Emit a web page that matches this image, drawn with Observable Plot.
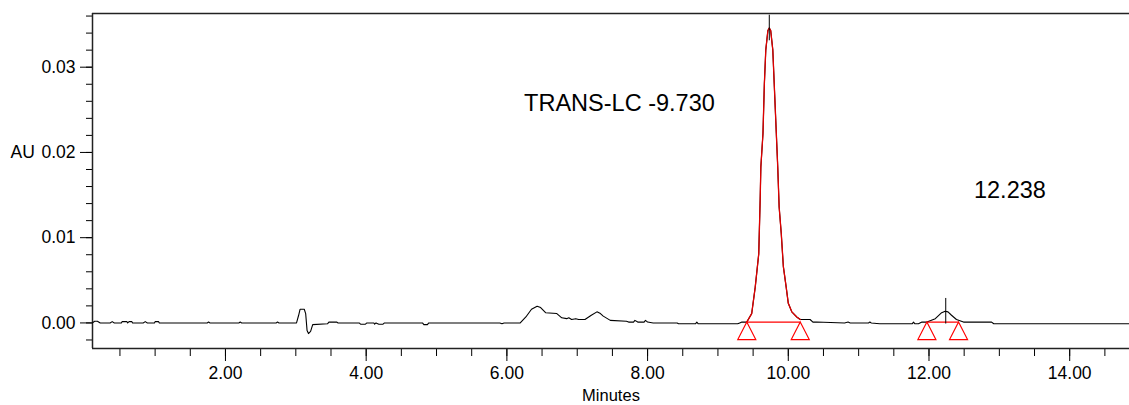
<!DOCTYPE html>
<html>
<head>
<meta charset="utf-8">
<script src="https://cdn.jsdelivr.net/npm/d3@7"></script>
<script src="https://cdn.jsdelivr.net/npm/@observablehq/plot@0.6"></script>
<style>
  html, body { margin: 0; padding: 0; background: #fff; }
  #chart svg { display: block; }
</style>
</head>
<body>
<div id="chart"></div>
<script>
// ---- data ----
const times = [
  0.11, 0.14, 0.18, 0.22, 0.36, 0.39, 0.42, 0.52, 0.53, 0.60, 0.61, 0.63, 0.67, 0.68,
  0.83, 0.86, 0.89, 0.99, 1.00, 1.05, 1.06, 1.74, 1.76, 1.78, 2.19, 2.21, 2.23,
  2.72, 2.74, 2.76, 3.01, 3.04, 3.06, 3.12, 3.14, 3.16, 3.18, 3.21, 3.24, 3.45,
  3.47, 3.58, 3.60, 3.90, 3.92, 3.99, 4.01, 4.11, 4.12, 4.14, 4.18, 4.24, 4.26,
  4.80, 4.82, 4.87, 4.89, 5.90, 5.93, 5.96, 6.19, 6.27, 6.35, 6.43, 6.48, 6.55,
  6.71, 6.78, 6.85, 6.88, 6.92, 6.98, 7.02, 7.11, 7.20, 7.28, 7.33, 7.37, 7.47,
  7.70, 7.73, 7.80, 7.82, 7.86, 7.95, 7.97, 8.00, 8.08, 8.42, 8.44, 8.68, 8.70,
  8.72, 9.28, 9.31, 9.34, 9.41, 9.48, 9.53, 9.58, 9.60, 9.61, 9.64, 9.66, 9.68,
  9.71, 9.73, 9.75, 9.78, 9.81, 9.85, 9.87, 9.90, 9.93, 9.97, 10.00, 10.05, 10.12,
  10.17, 10.31, 10.35, 10.40, 10.80, 10.85, 10.88, 11.14, 11.16, 11.18, 11.30,
  11.76, 11.78, 11.80, 11.85, 11.90, 11.97, 12.09, 12.18, 12.23, 12.27, 12.32,
  12.39, 12.49, 12.89, 12.92, 14.85
];
const absorbance = [
  0, 0.0002, 0.0002, 0, 0, 0.00015, 0, 0, 0.00015, 0.00015, 0, 0.00015, 0.00015, 0,
  0, 0.00015, 0, 0, 0.00015, 0.00015, 0, 0, 0.0001, 0, 0, 0.0001, 0,
  0, 0.0001, 0, 0, 0.0009, 0.0016, 0.0016, 0.0011, -0.0009, -0.00125, -0.001, -0.0002, -0.0001,
  0.0001, 0.0001, 0, 0, -0.00015, -0.00015, 0, 0, -0.00015, 0, -0.00015, -0.00015, 0,
  0, -0.0002, -0.0002, 0, 0, -0.0001, 0, 0, 0.0007, 0.0016, 0.00196, 0.0018, 0.0012,
  0.0011, 0.0006, 0.0005, 0.0006, 0.0004, 0.0005, 0.0004, 0.0004, 0.0009, 0.0013, 0.0011, 0.0008, 0.0003,
  0.0002, 0.0001, 0.0001, 0.0003, 0.0001, 0.0001, 0.0003, 0.0001, 0, 0, -0.0001, -0.0001, 0.0001,
  -0.0001, -0.0001, 0, 0.0001, 0.0001, 0.0011, 0.0042, 0.0081, 0.0144, 0.0183, 0.0222, 0.0281, 0.032,
  0.0343, 0.0346, 0.0343, 0.032, 0.0261, 0.0183, 0.0136, 0.0105, 0.0066, 0.0042, 0.0023, 0.0013, 0.0007,
  0.0004, 0.0004, 0.0001, 0.0001, 0, 0.0001, 0, 0, 0.0001, 0, -0.0001,
  -0.0001, 0.0001, -0.0001, -0.0001, 0.0001, 0.0001, 0.0005, 0.0012, 0.00137, 0.0013, 0.0009,
  0.0004, 0.0001, 0.0001, -0.0001, -0.0001
];

// integrated peaks
const peakLabels   = ["TRANS-LC -9.730", "12.238"];
const peakApexTime = [9.73, 12.238];
const peakApexAU   = [0.0346, 0.00137];
const peakStart    = [9.41, 11.97];
const peakEnd      = [10.17, 12.42];
const peakBaseAU   = [0.0001, 0.0001];
const peakLabelX   = [7.60, 13.15];
const peakLabelY   = [0.0258, 0.0155];

// axis ticks
const xMajorTicks = [2, 4, 6, 8, 10, 12, 14];
const xMinorTicks = [0.5, 1, 1.5, 2, 2.5, 3, 3.5, 4, 4.5, 5, 5.5, 6, 6.5, 7, 7.5, 8, 8.5, 9, 9.5, 10, 10.5, 11, 11.5, 12, 12.5, 13, 13.5, 14, 14.5];
const yMajorTicks = [0, 0.01, 0.02, 0.03];
const yMinorTicks = [-0.002, 0, 0.002, 0.004, 0.006, 0.008, 0.01, 0.012, 0.014, 0.016, 0.018, 0.02, 0.022, 0.024, 0.026, 0.028, 0.03, 0.032, 0.034, 0.036];
const xDomain = [0.11, 14.85];
const yDomain = [-0.003, 0.0363];

// ---- build tables ----
const trace = times.map((t, i) => ({t, au: absorbance[i]}));
const peaks = peakLabels.map((label, i) => ({
  label, apexT: peakApexTime[i], apexAU: peakApexAU[i],
  start: peakStart[i], end: peakEnd[i], base: peakBaseAU[i],
  lx: peakLabelX[i], ly: peakLabelY[i]
}));
const mainPeak = peaks[0];
const mainTrace = trace.filter(d => d.t >= mainPeak.start && d.t <= mainPeak.end);
const peakEnds = peaks.flatMap(p => [{t: p.start, au: p.base}, {t: p.end, au: p.base}]);

const triangleDown = {
  draw(context) {
    context.moveTo(0, 0);
    context.lineTo(-9, 17.5);
    context.lineTo(9, 17.5);
    context.closePath();
  }
};

const axisFont = 17.5;
const chart = Plot.plot({
  width: 1129,
  height: 405,
  marginLeft: 92,
  marginRight: 0,
  marginTop: 13,
  marginBottom: 57,
  x: {domain: xDomain},
  y: {domain: yDomain},
  style: {fontFamily: "'Liberation Sans', Arial, sans-serif", fontSize: "17px", background: "#fff", color: "#000"},
  marks: [
    Plot.axisY({ticks: yMinorTicks, tickSize: 6, tickFormat: () => "", label: null}),
    Plot.axisY({ticks: yMajorTicks, tickSize: 12, tickPadding: 5, tickFormat: ".2f", label: null, fontSize: axisFont}),
    Plot.axisX({ticks: xMinorTicks, tickSize: 8, tickFormat: () => "", label: null}),
    Plot.axisX({ticks: xMajorTicks, tickSize: 13, tickPadding: 5, tickFormat: ".2f", label: null, fontSize: axisFont}),
    Plot.ruleX([xDomain[0]], {stroke: "#222", strokeWidth: 1.5}),
    Plot.ruleY([yDomain[0], yDomain[1]], {stroke: "#222", strokeWidth: 1.5}),
    Plot.line(trace, {x: "t", y: "au", stroke: "#000", strokeWidth: 1.1}),
    Plot.line(mainTrace, {x: "t", y: "au", stroke: "#e00000", strokeWidth: 1.3}),
    Plot.link(peaks, {x1: "start", x2: "end", y1: "base", y2: "base", stroke: "#ff0000", strokeWidth: 1.2}),
    Plot.dot(peakEnds, {x: "t", y: "au", symbol: triangleDown, stroke: "#ff0000", fill: "none", strokeWidth: 1.2}),
    Plot.ruleX(peaks, {x: "apexT", y1: d => d.apexAU - 0.0015, y2: d => d.apexAU + 0.0015, stroke: "#000", strokeWidth: 1}),
    Plot.text(peaks, {x: "lx", y: "ly", text: "label", fontSize: 23.5, fill: "#000"}),
    Plot.text(["AU"], {frameAnchor: "left", y: [yMajorTicks[2]], dx: -82, textAnchor: "start", fontSize: axisFont, fill: "#000"}),
    Plot.text(["Minutes"], {frameAnchor: "bottom", dy: 41, lineAnchor: "top", fontSize: 16.5, fill: "#000"})
  ]
});
document.getElementById("chart").appendChild(chart);
</script>
</body>
</html>
